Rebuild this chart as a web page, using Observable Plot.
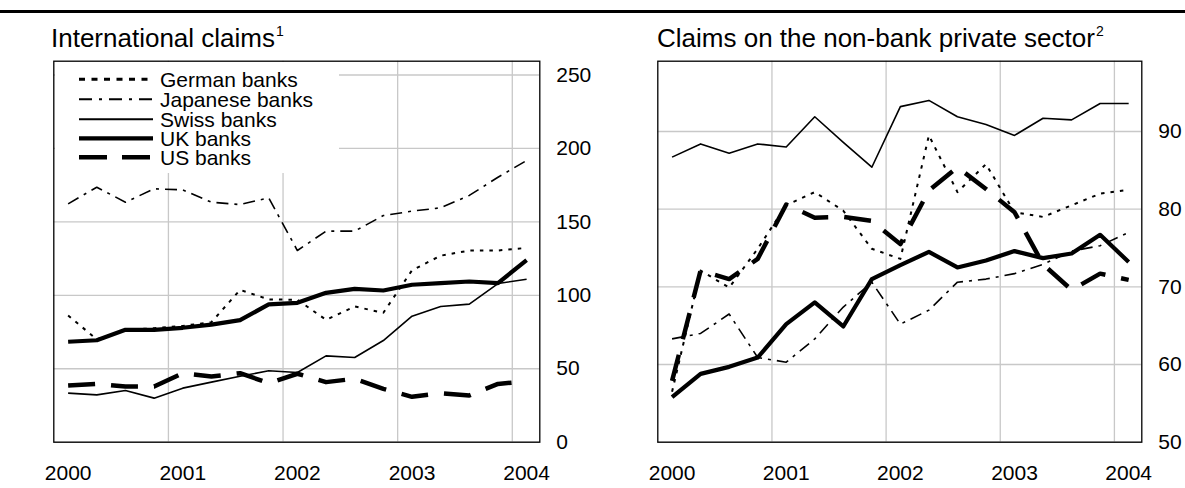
<!DOCTYPE html>
<html>
<head>
<meta charset="utf-8">
<script src="https://cdn.jsdelivr.net/npm/d3@7"></script>
<script src="https://cdn.jsdelivr.net/npm/@observablehq/plot@0.6"></script>
<style>
  html, body { margin: 0; padding: 0; background: #fff; }
  body { font-family: "Liberation Sans", Arial, Helvetica, sans-serif; color: #000; }
  #root { position: relative; width: 1185px; height: 488px; overflow: hidden; background: #fff; }
  .rule { position: absolute; left: 0; top: 10px; width: 1185px; height: 3px; background: #000; }
  .title { position: absolute; font-size: 26px; line-height: 26px; white-space: nowrap; color: #000; }
  .title .sup { font-size: 14px; position: relative; top: -11px; margin-left: 1px; }
  .panel { position: absolute; top: 40px; }
  .legend { position: absolute; left: 55px; top: 62px; width: 284px; height: 111px; background: #fff; }
</style>
</head>
<body>
<div id="root">
  <div class="rule"></div>
  <div class="title" style="left:51px; top:24.5px;">International claims<span class="sup">1</span></div>
  <div class="title" style="left:657px; top:24.5px;">Claims on the non-bank private sector<span class="sup">2</span></div>
  <div id="left" class="panel" style="left:0px;"></div>
  <div id="right" class="panel" style="left:600px;"></div>
  <div id="legend" class="legend"></div>
</div>
<script>
// ---------------- DATA ----------------
const quarters = ["2000Q1","2000Q2","2000Q3","2000Q4","2001Q1","2001Q2","2001Q3","2001Q4",
                  "2002Q1","2002Q2","2002Q3","2002Q4","2003Q1","2003Q2","2003Q3","2003Q4","2004Q1"];
const seriesNames = ["German banks", "Japanese banks", "Swiss banks", "UK banks", "US banks"];
const yearLabels = ["2000", "2001", "2002", "2003", "2004"];
const leftTicks = [0, 50, 100, 150, 200, 250];
const rightTicks = [50, 60, 70, 80, 90];

// International claims (left panel)
const intlGerman   = [86.3, 70.0, 76.5, 77.6, 79.2, 81.7, 103.7, 97.2, 97.0, 83.3, 92.4, 88.1, 117.0, 127.0, 130.5, 130.5, 132.3];
const intlJapanese = [162.3, 173.6, 163.4, 172.5, 171.8, 163.4, 161.8, 166.4, 130.5, 143.7, 143.7, 154.3, 157.3, 159.6, 168.0, 180.4, 191.8];
const intlSwiss    = [33.4, 32.2, 35.2, 30.0, 36.8, 40.9, 44.9, 48.6, 47.5, 58.8, 57.7, 69.2, 85.8, 92.4, 94.0, 108.0, 111.0];
const intlUK       = [68.4, 69.4, 76.5, 76.5, 77.9, 80.1, 83.1, 93.8, 94.9, 101.7, 104.4, 103.3, 107.2, 108.3, 109.4, 108.3, 124.0];
const intlUS       = [38.6, 39.7, 37.9, 37.9, 47.0, 44.7, 47.0, 40.2, 46.6, 40.9, 43.2, 36.3, 30.9, 33.4, 31.8, 39.7, 41.5];

// Claims on the non-bank private sector (right panel)
const privGerman   = [56.5, 72.1, 69.9, 74.9, 80.5, 82.2, 79.8, 74.9, 73.6, 89.5, 82.2, 85.8, 79.6, 79.0, 80.5, 82.0, 82.5];
const privJapanese = [63.3, 64.0, 66.5, 60.9, 60.3, 63.3, 67.4, 70.6, 65.2, 67.0, 70.6, 71.0, 71.7, 72.9, 74.6, 75.3, 77.0];
const privSwiss    = [86.7, 88.4, 87.2, 88.4, 88.0, 91.9, 88.6, 85.4, 93.2, 94.0, 91.9, 90.9, 89.5, 91.7, 91.5, 93.6, 93.6];
const privUK       = [55.8, 58.8, 59.7, 60.9, 65.2, 68.0, 64.9, 71.0, 72.8, 74.5, 72.5, 73.4, 74.6, 73.7, 74.3, 76.7, 73.2];
const privUS       = [57.9, 72.1, 71.0, 73.6, 80.6, 78.9, 79.0, 78.5, 75.5, 82.4, 85.4, 82.6, 79.6, 72.9, 69.6, 71.7, 70.9];

// ---------------- HELPERS ----------------
// Quarter -> decimal year at mid-quarter
const qTime = q => +q.slice(0, 4) + (+q.slice(5) - 1) / 4 + 0.125;
const yearTickPos = yearLabels.map(y => qTime(y + "Q1"));
const yearGrid = yearLabels.slice(1).map(Number);

function table(arrs) {
  return seriesNames.flatMap((name, s) =>
    quarters.map((q, i) => ({series: name, t: qTime(q), v: arrs[s][i]})));
}

const styles = {
  "German banks":   {strokeWidth: 2,   strokeDasharray: "3.5,6"},
  "Japanese banks": {strokeWidth: 1.6, strokeDasharray: "12,6,3,6"},
  "Swiss banks":    {strokeWidth: 1.6, strokeDasharray: null},
  "UK banks":       {strokeWidth: 4.2, strokeDasharray: null},
  "US banks":       {strokeWidth: 4.5, strokeDasharray: "27,16"}
};

const FONT = "'Liberation Sans', Arial, Helvetica, sans-serif";

function panel({data, width, marginLeft, marginRight, yDomain, yTicks}) {
  const lines = seriesNames.map(name => Plot.line(data.filter(d => d.series === name), {
    x: "t", y: "v", stroke: "black",
    strokeWidth: styles[name].strokeWidth,
    strokeDasharray: styles[name].strokeDasharray || undefined,
    strokeLinecap: "butt", strokeLinejoin: "round"
  }));
  return Plot.plot({
    width, height: 448,
    marginLeft, marginRight, marginTop: 20.7, marginBottom: 46.3,
    x: {domain: [2000, 2004.24], label: null},
    y: {domain: yDomain, label: null},
    style: {fontFamily: FONT, color: "#000", background: "transparent", overflow: "visible"},
    marks: [
      Plot.gridX(yearGrid, {stroke: "#c8c8c8", strokeOpacity: 1, strokeWidth: 1.3}),
      Plot.gridY(yTicks, {stroke: "#c8c8c8", strokeOpacity: 1, strokeWidth: 1.3}),
      ...lines,
      Plot.frame({stroke: "#000", strokeWidth: 1.3}),
      Plot.axisY(yTicks, {anchor: "right", tickSize: 0, tickPadding: 16.4, fontSize: 21, label: null}),
      Plot.axisX(yearTickPos, {anchor: "bottom", tickSize: 0, tickPadding: 23, fontSize: 21, label: null,
        tickFormat: d => String(Math.round(d - 0.125))})
    ]
  });
}

document.getElementById("left").append(panel({
  data: table([intlGerman, intlJapanese, intlSwiss, intlUK, intlUS]),
  width: 600, marginLeft: 53.3, marginRight: 60.7,
  yDomain: [0, 259.4], yTicks: leftTicks
}));

document.getElementById("right").append(panel({
  data: table([privGerman, privJapanese, privSwiss, privUK, privUS]),
  width: 585, marginLeft: 57.3, marginRight: 43.7,
  yDomain: [50, 99.05], yTicks: rightTicks
}));

// ---------------- LEGEND ----------------
const legendStyles = {
  "German banks":   {w: 3,   dash: "6,6.5"},
  "Japanese banks": {w: 2,   dash: "13,7,3,7"},
  "Swiss banks":    {w: 2,   dash: null},
  "UK banks":       {w: 4.2, dash: null},
  "US banks":       {w: 4.5, dash: "28,15"}
};
const rowY = [17.3, 37.3, 57.3, 76.3, 95.3];
const lsvg = d3.select("#legend").append("svg").attr("width", 284).attr("height", 111)
  .style("display", "block");
seriesNames.forEach((name, i) => {
  const st = legendStyles[name];
  lsvg.append("line").attr("x1", 24).attr("x2", 98).attr("y1", rowY[i]).attr("y2", rowY[i])
    .attr("stroke", "#000").attr("stroke-width", st.w)
    .attr("stroke-dasharray", st.dash).attr("stroke-linecap", "butt");
  lsvg.append("text").attr("x", 105).attr("y", rowY[i] + 7.4)
    .attr("font-family", FONT).attr("font-size", 21).attr("fill", "#000").text(name);
});
</script>
</body>
</html>
